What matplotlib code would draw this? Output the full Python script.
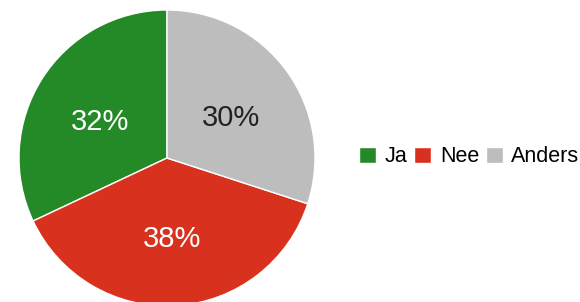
import matplotlib.pyplot as plt

labels = ['Ja', 'Nee', 'Anders']
values = [32, 38, 30]
colors = ['#248a27', '#d8321f', '#bdbdbd']
pct_colors = ['white', 'white', '#222222']

plt.rcParams['font.family'] = ['Liberation Sans', 'DejaVu Sans']

fig = plt.figure(figsize=(5.8, 3.02), dpi=100)
# pie centre ~ (167, 158) px, radius ~148 px
r = 148
ax = fig.add_axes([(167 - r) / 580, (302 - 158 - r) / 302, 2 * r / 580, 2 * r / 302])
wedges, texts, autotexts = ax.pie(
    values, labels=None, colors=colors, startangle=90,
    counterclock=True, autopct='%d%%', pctdistance=0.55,
    wedgeprops=dict(edgecolor='white', linewidth=1),
    textprops=dict(fontsize=21))
for t, c in zip(autotexts, pct_colors):
    t.set_color(c)
    x, y = t.get_position()
    if y > 0:
        # labels in the upper slices sit a bit lower in the reference
        t.set_position((x * 0.97, y - 0.05))
ax.set_xlim(-1, 1)
ax.set_ylim(-1, 1)
ax.set_aspect('equal')
ax.axis('off')

fig.legend(wedges, labels, loc='center left', bbox_to_anchor=(359 / 580, 1 - 157 / 302),
           ncol=3, frameon=False, fontsize=15.5, handlelength=0.8, handleheight=0.8,
           handletextpad=0.4, columnspacing=0.3, borderpad=0, borderaxespad=0)

fig.savefig('out.png', dpi=100)
